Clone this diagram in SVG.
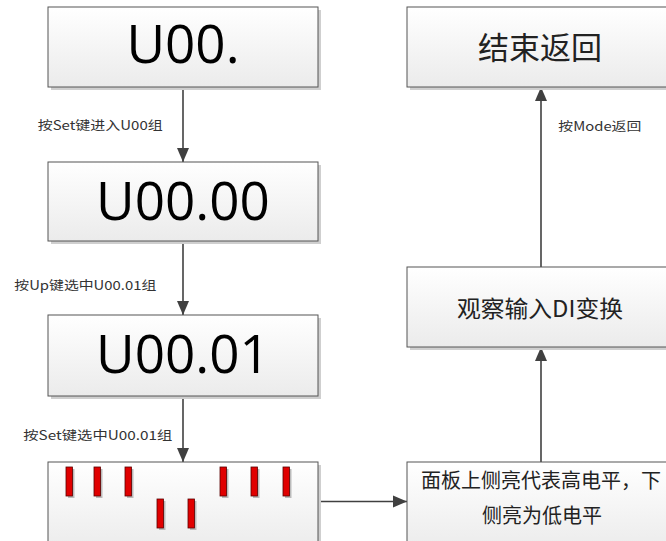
<svg xmlns="http://www.w3.org/2000/svg" width="666" height="541" viewBox="0 0 666 541">
<defs>
<linearGradient id="g" x1="0" y1="0" x2="0" y2="1">
<stop offset="0" stop-color="#ffffff"/>
<stop offset="1" stop-color="#ebebeb"/>
</linearGradient>
<marker id="ah" markerUnits="userSpaceOnUse" markerWidth="14" markerHeight="14" viewBox="0 0 14 12" refX="14" refY="6" orient="auto">
<path d="M0,0 L14,6 L0,12 Z" fill="#404040"/>
</marker>
</defs>
<style>
.sh{fill:#cfcfcf}
.bx{fill:url(#g);stroke:#555;stroke-width:1}
.big{font-family:"Open Sans","Liberation Sans",sans-serif;font-size:53px;fill:#000;text-anchor:middle}
.cn{font-family:"Noto Sans CJK SC","Liberation Sans",sans-serif;fill:#222;text-anchor:middle}
.lb{font-family:"Noto Sans CJK SC","Liberation Sans",sans-serif;font-size:12.5px;fill:#333}
.ln{stroke:#404040;stroke-width:1.6;fill:none;marker-end:url(#ah)}
.led{fill:#e00000;stroke:#5a0000;stroke-width:0.8}
.ledsh{fill:#bbbbbb}
</style>
<rect width="666" height="541" fill="#fff"/>
<g id="connectors">
<line class="ln" x1="183" y1="87" x2="183" y2="162"/>
<line class="ln" x1="183" y1="241" x2="183" y2="315"/>
<line class="ln" x1="183" y1="396" x2="183" y2="462"/>
<line class="ln" x1="318" y1="501.5" x2="407" y2="501.5"/>
<line class="ln" x1="541" y1="462" x2="541" y2="347"/>
<line class="ln" x1="541" y1="267" x2="541" y2="87"/>
<text class="lb" x="37.7" y="130" textLength="125" lengthAdjust="spacingAndGlyphs">按Set键进入U00组</text>
<text class="lb" x="14.3" y="290" textLength="142" lengthAdjust="spacingAndGlyphs">按Up键选中U00.01组</text>
<text class="lb" x="23.3" y="440" textLength="149" lengthAdjust="spacingAndGlyphs">按Set键选中U00.01组</text>
<text class="lb" x="558.3" y="131" textLength="83" lengthAdjust="spacingAndGlyphs">按Mode返回</text>
</g>
<g id="n1">
<rect class="sh" x="51" y="10" width="270" height="80"/>
<rect class="bx" x="48" y="7" width="270" height="80"/>
<text class="big" x="183" y="63">U00.</text>
</g>
<g id="n2">
<rect class="sh" x="51" y="165" width="270" height="79"/>
<rect class="bx" x="48" y="162" width="270" height="79"/>
<text class="big" x="183" y="220">U00.00</text>
</g>
<g id="n3">
<rect class="sh" x="51" y="318" width="270" height="81"/>
<rect class="bx" x="48" y="315" width="270" height="81"/>
<text class="big" x="183" y="373">U00.01</text>
</g>
<g id="n4">
<rect class="sh" x="51" y="465" width="270" height="90"/>
<rect class="bx" x="48" y="462" width="270" height="90"/>
<g>
<rect class="ledsh" x="68" y="469" width="6.5" height="29"/>
<rect class="ledsh" x="96" y="469" width="6.5" height="29"/>
<rect class="ledsh" x="127" y="469" width="6.5" height="29"/>
<rect class="ledsh" x="222" y="469" width="6.5" height="29"/>
<rect class="ledsh" x="253" y="469" width="6.5" height="29"/>
<rect class="ledsh" x="285" y="469" width="6.5" height="29"/>
<rect class="ledsh" x="159" y="501" width="6.5" height="29"/>
<rect class="ledsh" x="190" y="501" width="6.5" height="29"/>
<rect class="led" x="66" y="467" width="6.5" height="29"/>
<rect class="led" x="94" y="467" width="6.5" height="29"/>
<rect class="led" x="125" y="467" width="6.5" height="29"/>
<rect class="led" x="220" y="467" width="6.5" height="29"/>
<rect class="led" x="251" y="467" width="6.5" height="29"/>
<rect class="led" x="283" y="467" width="6.5" height="29"/>
<rect class="led" x="157" y="499" width="6.5" height="29"/>
<rect class="led" x="188" y="499" width="6.5" height="29"/>
</g>
</g>
<g id="n5">
<rect class="sh" x="410" y="10" width="270" height="80"/>
<rect class="bx" x="407" y="7" width="270" height="80"/>
<text class="cn" x="540" y="59" font-size="31">结束返回</text>
</g>
<g id="n6">
<rect class="sh" x="410" y="270" width="270" height="80"/>
<rect class="bx" x="407" y="267" width="270" height="80"/>
<text class="cn" x="540" y="317" font-size="23" textLength="166" lengthAdjust="spacingAndGlyphs">观察输入DI变换</text>
</g>
<g id="n7">
<rect class="sh" x="410" y="465" width="270" height="90"/>
<rect class="bx" x="407" y="462" width="270" height="90"/>
<text class="cn" x="541" y="488" font-size="20">面板上侧亮代表高电平，下</text>
<text class="cn" x="542" y="523" font-size="20">侧亮为低电平</text>
</g>
</svg>
